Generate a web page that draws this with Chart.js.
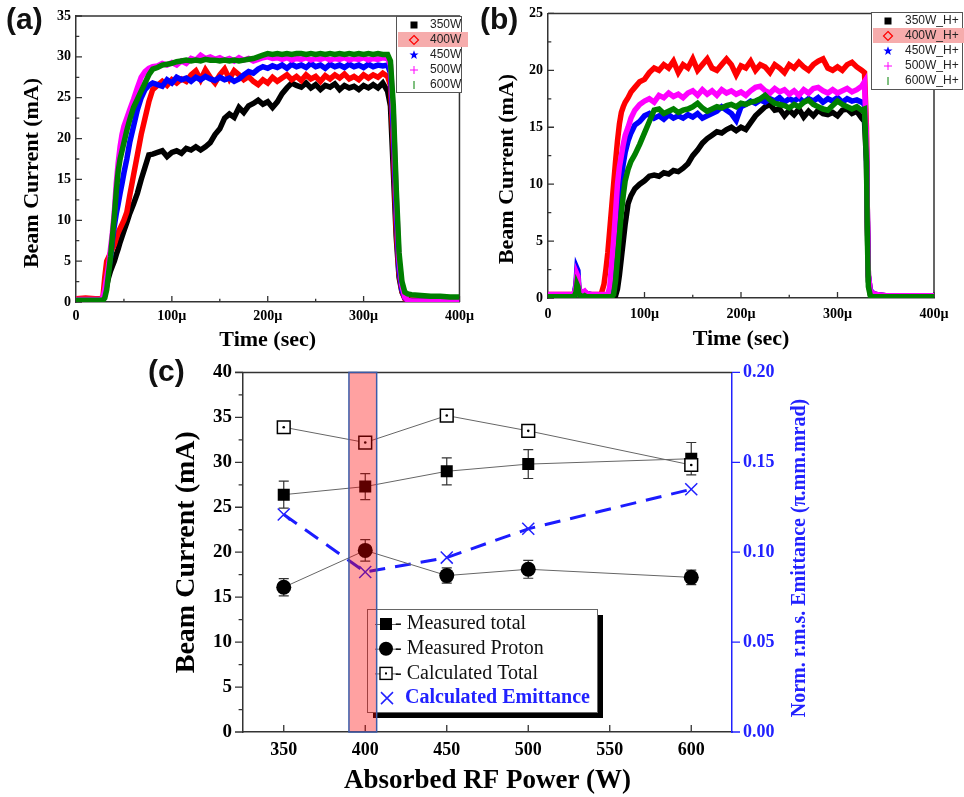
<!DOCTYPE html>
<html>
<head>
<meta charset="utf-8">
<title>Beam current vs absorbed RF power</title>
<script src="https://cdn.jsdelivr.net/npm/chart.js"></script>
<style>
  body { margin: 0; background: #ffffff; }
  #page { position: relative; width: 964px; height: 797px; overflow: hidden; background: #fff; }
  #page canvas { position: absolute; }
  /* panel letters */
  .panel { position: absolute; font: bold 30px "Liberation Sans", Arial, sans-serif; color: #111; line-height: 1; }
</style>
</head>
<body>
<div id="page">
  <canvas id="chartA" width="480" height="360" style="left:0px;top:0px"></canvas>
  <canvas id="chartB" width="484" height="360" style="left:480px;top:0px"></canvas>
  <canvas id="chartC" width="964" height="447" style="left:0px;top:350px"></canvas>
  <div class="panel" style="left:6px;top:4px">(a)</div>
  <div class="panel" style="left:480px;top:4px">(b)</div>
  <div class="panel" style="left:148px;top:356px">(c)</div>
</div>

<script>
// ---------- panel (a): total beam current, time in µs ----------
const timeA = [0, 10, 20, 25, 28, 30, 32, 34, 36, 38, 40, 42, 44, 46, 48, 50, 53, 56, 60, 64,
  68, 72, 76, 80, 85, 90, 95, 100, 105, 110, 115, 120, 125, 130, 135, 140, 145, 150, 155, 160,
  165, 170, 175, 180, 185, 190, 195, 200, 205, 210, 215, 220, 225, 230, 235, 240, 245, 250, 255, 260,
  265, 270, 275, 280, 285, 290, 295, 300, 305, 310, 315, 320, 325, 328, 331, 334, 337, 340, 343, 346,
  350, 360, 370, 380, 390, 400];

const total350 = [0.3, 0.3, 0.3, 0.3, 0.3, 0.8, 2, 3, 3.8, 4.4, 5, 5.8, 6.5, 7.3, 8, 8.7, 9.7, 10.8, 12, 13.3,
  15, 16.5, 18, 18.1, 18.3, 18.5, 17.8, 18.3, 18.5, 18.2, 18.8, 18.6, 19, 18.6, 19, 19.5, 20.5, 21.2, 22.5, 23,
  22.6, 23.8, 23.2, 24, 24.3, 24.7, 24.2, 24.5, 23.8, 24.5, 25.5, 26.2, 26.8, 26.5, 26.3, 26.8, 26.2, 26.6, 26, 26.5,
  26.3, 26.7, 26, 26.5, 26.2, 26.4, 26, 26.5, 26.2, 26.6, 26.2, 26.8, 25.8, 24, 16, 8, 3, 1.2, 0.5, 0.3,
  0.2, 0.2, 0.2, 0.2, 0.2, 0.2];
const total400 = [0.4, 0.5, 0.4, 0.4, 0.5, 3, 5, 5.5, 6, 6.5, 7, 7.8, 8.5, 9, 9.5, 10, 11, 13, 15.5, 18,
  20.5, 22.5, 24.5, 26, 26.5, 27, 26.5, 27.2, 26.8, 27.3, 27, 27.8, 28.3, 27.2, 28.4, 27.5, 26.8, 27.8, 28.5, 27.3,
  28.3, 27.8, 27.2, 27.6, 27, 26.6, 27.2, 26.8, 27.5, 27, 27.4, 27.8, 27.2, 27.6, 27.1, 27.8, 27.3, 27.6, 27, 27.7,
  27.3, 27.8, 27.4, 27.9, 27.3, 27.6, 27.2, 27.8, 27.4, 27.8, 27.5, 28, 27.6, 26.5, 19, 9, 3.5, 1.3, 0.4, 0.2,
  0.2, 0.2, 0.2, 0.2, 0.2, 0.2];
const total450 = [0.2, 0.2, 0.2, 0.2, 0.3, 1, 2.5, 4, 5.5, 7.5, 9.3, 10.8, 12, 13.3, 14.5, 15.8, 17.5, 19.5, 21.5, 23.5,
  25, 26, 26.5, 26.8, 26.6, 26.4, 27.2, 26.8, 27.5, 27.2, 27.4, 27, 27.5, 27.2, 27.6, 27.3, 27.1, 27.5, 27.2, 27.4,
  27, 27.3, 27.8, 28.2, 28, 28.5, 28.8, 28.6, 28.9, 28.7, 29, 28.6, 29.1, 28.8, 29, 28.7, 29.2, 28.8, 29, 28.6,
  29.1, 28.8, 29, 28.7, 29.1, 28.8, 29, 28.7, 29.1, 28.8, 29, 28.9, 29, 28, 21, 11, 4, 1.5, 0.5, 0.2,
  0.1, 0.1, 0.1, 0.1, 0.1, 0.1];
const total500 = [0.3, 0.3, 0.3, 0.3, 0.5, 1.5, 3, 4.5, 6.5, 8.5, 11, 14.5, 17, 19, 20.5, 21.5, 22.5, 23.5, 24.8, 26.2,
  27.5, 28.2, 28.6, 28.8, 28.9, 29.2, 29, 29.3, 29, 29.5, 29.2, 29.8, 29.6, 30.2, 29.8, 30, 29.7, 29.9, 29.6, 29.8,
  29.5, 29.9, 29.6, 29.8, 29.5, 29.7, 29.9, 30, 29.8, 29.9, 29.7, 29.9, 29.6, 29.8, 29.7, 29.9, 29.6, 29.8, 29.7, 29.9,
  29.6, 29.8, 29.7, 29.9, 29.6, 29.8, 29.7, 29.9, 29.6, 29.8, 29.7, 29.9, 29.8, 29, 23, 13, 5, 2, 0.6, 0.2,
  0.1, 0.1, 0.1, 0.1, 0.1, 0.1];
const total600 = [0.2, 0.2, 0.2, 0.2, 0.2, 0.5, 1.5, 3.5, 5.5, 8, 10.5, 13.5, 16, 17.5, 18.5, 19.5, 21, 22.3, 23.8, 24.8,
  25.8, 26.8, 27.8, 28.5, 28.7, 29, 29.1, 29.2, 29.4, 29.5, 29.6, 29.5, 29.6, 29.5, 29.7, 29.6, 29.6, 29.5, 29.6, 29.5,
  29.6, 29.5, 29.6, 29.7, 29.8, 30, 30.2, 30.4, 30.3, 30.4, 30.3, 30.4, 30.3, 30.4, 30.4, 30.3, 30.4, 30.3, 30.4, 30.3,
  30.4, 30.3, 30.4, 30.3, 30.4, 30.3, 30.4, 30.3, 30.4, 30.3, 30.4, 30.3, 30.3, 29.5, 24, 14, 6, 2.5, 1.2, 1,
  0.9, 0.8, 0.7, 0.7, 0.6, 0.6];

// ---------- panel (b): proton (H+) beam current ----------
const timeB = [0, 10, 20, 27, 29, 30, 31, 32, 34, 36, 38, 40, 45, 50, 55, 58, 60, 62, 64, 66,
  68, 70, 72, 74, 76, 78, 80, 83, 86, 90, 95, 100, 105, 110, 115, 120, 125, 130, 135, 140,
  145, 150, 155, 160, 165, 170, 175, 180, 185, 190, 195, 200, 205, 210, 215, 220, 225, 230, 235, 240,
  245, 250, 255, 260, 265, 270, 275, 280, 285, 290, 295, 300, 305, 310, 315, 320, 325, 328, 330, 331,
  332, 334, 337, 340, 350, 360, 380, 400];

const proton350 = [0.2, 0.2, 0.2, 0.2, 0.8, 1.8, 1.5, 0.6, 0.4, 0.3, 0.3, 0.2, 0.1, 0.1, 0.1, 0.1, 0.1, 0.1, 0.1, 0.1,
  0.1, 0.2, 0.8, 2, 3.5, 5, 6.5, 8.3, 9, 9.6, 10, 10.3, 10.7, 10.8, 10.7, 11, 10.9, 11.2, 11.1, 11.4,
  11.8, 12.5, 13, 13.6, 14, 14.3, 14.6, 14.5, 14.8, 15, 14.7, 15, 14.8, 15.4, 16, 16.4, 16.8, 17, 16.5, 16.6,
  16, 16.5, 16.1, 16.6, 15.9, 16.4, 16, 16.5, 16.2, 16.1, 16.3, 16, 16.5, 16.6, 16.2, 16.4, 15.8, 15.5, 12, 6,
  1.5, 0.3, 0.1, 0.1, 0.1, 0.1, 0.1, 0.1];
const proton400 = [0.3, 0.3, 0.3, 0.3, 1, 2, 1.8, 0.7, 0.5, 0.4, 0.5, 0.4, 0.3, 0.3, 0.3, 1.2, 2.5, 4, 6, 8,
  10, 12, 13.8, 15.3, 16.3, 16.8, 17.2, 17.6, 18.1, 18.5, 19, 19.2, 19.8, 20.2, 20, 20.5, 20.2, 20.8, 19.8, 20.5,
  20.2, 21, 20, 20.5, 21, 20.2, 20, 20.5, 21, 20.5, 19.6, 20.4, 20.2, 20.8, 20, 20.5, 20.3, 19.8, 20.5, 20.2,
  19.8, 20.5, 20.2, 20.7, 20.3, 20, 20.5, 20.8, 21, 20.2, 20, 20.3, 20, 20.5, 20.7, 20.3, 20, 19.8, 15, 7,
  2, 0.6, 0.4, 0.3, 0.2, 0.2, 0.2, 0.2];
const proton450 = [0.2, 0.2, 0.2, 0.3, 1.2, 2.6, 2.4, 0.8, 0.5, 0.4, 0.5, 0.4, 0.3, 0.2, 0.2, 0.2, 0.2, 0.2, 0.3, 0.8,
  2, 4, 6.5, 9, 10.5, 11.8, 12.8, 13.8, 14.5, 15.2, 15.5, 16, 16.2, 15.8, 16, 15.7, 16.1, 15.8, 16, 15.8,
  16.1, 15.9, 16.2, 15.8, 16, 16.2, 16.4, 16.8, 16.5, 16.2, 15.6, 16.8, 17, 17.3, 17.1, 17.4, 17.2, 17.5, 17.3, 17.6,
  17.2, 17.5, 17.3, 17.6, 17.2, 17.5, 17.3, 17.6, 17.2, 17.5, 17.3, 17.6, 17.2, 17.5, 17.3, 17.4, 17.2, 17, 13, 7,
  2, 0.7, 0.4, 0.3, 0.2, 0.2, 0.2, 0.2];
const proton500 = [0.3, 0.3, 0.3, 0.3, 1, 2.1, 1.9, 0.7, 0.6, 0.5, 0.6, 0.4, 0.3, 0.3, 0.3, 0.3, 0.3, 0.3, 1, 3,
  5, 7.5, 10, 11.5, 12.5, 13.5, 14.3, 15, 15.8, 16.5, 17, 17.3, 17.5, 17.2, 17.8, 17.6, 18, 17.7, 17.9, 17.6,
  18, 18.2, 17.8, 18.3, 17.9, 18.2, 17.8, 18.3, 18, 18.2, 17.9, 18.1, 17.8, 18.2, 18.5, 18.6, 18.2, 18, 18.4, 18.1,
  18.3, 17.9, 18.2, 17.8, 18.3, 18, 18.4, 18.5, 18.2, 18, 18.3, 18, 18.2, 18.4, 18.1, 18.3, 18.6, 19, 14, 7,
  2, 0.6, 0.4, 0.3, 0.2, 0.2, 0.2, 0.2];
const proton600 = [0.1, 0.1, 0.1, 0.1, 0.5, 1.2, 1, 0.3, 0.2, 0.1, 0.2, 0.1, 0.1, 0.1, 0.1, 0.1, 0.1, 0.1, 0.1, 0.1,
  0.3, 1.5, 3.5, 5.5, 7.5, 9, 10.3, 11.3, 12, 12.6, 13.5, 14.5, 15.5, 16.5, 16.6, 16.2, 16.4, 16.6, 16.3, 16.5,
  16.6, 16.8, 17.1, 16.7, 16.4, 16.6, 16.8, 16.7, 16.9, 17, 16.8, 17.1, 17, 17.2, 17.3, 17.5, 17.8, 17.4, 17.1, 17,
  16.9, 16.7, 17, 16.8, 17.2, 17.4, 17, 16.8, 16.6, 16.5, 16.9, 17.3, 17, 16.8, 16.6, 16.8, 16.5, 16.6, 12, 5,
  1, 0.2, 0.1, 0.1, 0.1, 0.1, 0.1, 0.1];

const labelsA = ['350W', '400W', '450W', '500W', '600W'];
const labelsB = ['350W_H+', '400W_H+', '450W_H+', '500W_H+', '600W_H+'];
const traceColors = ['#000000', '#ff0000', '#0000ff', '#ff00ff', '#008000'];
const markerShapes = ['square', 'diamond', 'star', 'plus', 'bar'];

// ---------- panel (c): summary vs absorbed RF power ----------
const rfPower = [350, 400, 450, 500, 600];
const powerTicks = [350, 400, 450, 500, 550, 600];
const measTotal = [26.4, 27.3, 29.0, 29.8, 30.4];
const measTotalErr = [1.5, 1.45, 1.5, 1.6, 1.8];
const measProton = [16.1, 20.2, 17.4, 18.1, 17.2];
const measProtonErr = [0.95, 1.2, 0.85, 1.0, 0.8];
const calcTotal = [33.9, 32.2, 35.2, 33.5, 29.7];
const emittance = [0.121, 0.089, 0.097, 0.113, 0.135];
const highlightPower = [390, 407];   // shaded 400 W band

const serif = '"Liberation Serif", "Times New Roman", serif';
const sans = '"Liberation Sans", Arial, sans-serif';
const axisColor = '#333333';
const blue = '#2222ff';

// short ticks drawn on the chart-area edge, minor ones at half length
function drawTicks(chart, t) {
  const s = chart.scales[t.id], a = chart.chartArea, ctx = chart.ctx;
  ctx.save();
  ctx.strokeStyle = t.color;
  ctx.lineWidth = 1.3;
  ctx.beginPath();
  const first = Math.ceil(s.min / t.minor - 1e-9);
  for (let k = first; k * t.minor <= s.max + 1e-9; k++) {
    const v = k * t.minor;
    const isMajor = Math.abs(v / t.major - Math.round(v / t.major)) < 1e-6;
    if (!isMajor && !t.showMinor) continue;
    const len = isMajor ? t.len : t.len * 0.55;
    const p = s.getPixelForValue(v);
    if (t.side === 'bottom') {
      ctx.moveTo(p, a.bottom); ctx.lineTo(p, a.bottom + (t.dir === 'in' ? -len : len));
    } else if (t.side === 'left') {
      ctx.moveTo(a.left, p); ctx.lineTo(a.left + (t.dir === 'in' ? len : -len), p);
    } else {
      ctx.moveTo(a.right, p); ctx.lineTo(a.right + (t.dir === 'in' ? -len : len), p);
    }
  }
  ctx.stroke();
  ctx.restore();
}

function drawVerticalTitle(ctx, text, x, y, font, color) {
  ctx.save();
  ctx.translate(x, y);
  ctx.rotate(-Math.PI / 2);
  ctx.fillStyle = color;
  ctx.font = font;
  ctx.textAlign = 'center';
  ctx.textBaseline = 'middle';
  ctx.fillText(text, 0, 0);
  ctx.restore();
}

function drawMarker(ctx, shape, x, y, color) {
  ctx.save();
  ctx.fillStyle = color;
  ctx.strokeStyle = color;
  ctx.lineWidth = 1.2;
  ctx.beginPath();
  if (shape === 'square') {
    ctx.fillRect(x - 3.5, y - 3.5, 7, 7);
  } else if (shape === 'diamond') {
    ctx.moveTo(x, y - 4.5); ctx.lineTo(x + 4.5, y); ctx.lineTo(x, y + 4.5); ctx.lineTo(x - 4.5, y);
    ctx.closePath(); ctx.stroke();
  } else if (shape === 'star') {
    for (let k = 0; k < 10; k++) {
      const r = k % 2 ? 2 : 4.8;
      const ang = -Math.PI / 2 + k * Math.PI / 5;
      ctx.lineTo(x + r * Math.cos(ang), y + r * Math.sin(ang));
    }
    ctx.closePath(); ctx.fill();
  } else if (shape === 'plus') {
    ctx.lineWidth = 1;
    ctx.moveTo(x - 4, y); ctx.lineTo(x + 4, y); ctx.moveTo(x, y - 4); ctx.lineTo(x, y + 4); ctx.stroke();
  } else {
    ctx.lineWidth = 1;
    ctx.moveTo(x, y - 4); ctx.lineTo(x, y + 4); ctx.stroke();
  }
  ctx.restore();
}

function drawTraceLegend(chart, L) {
  const ctx = chart.ctx;
  ctx.save();
  ctx.fillStyle = '#fff';
  ctx.fillRect(L.x, L.y, L.w, L.h);
  ctx.strokeStyle = '#555';
  ctx.lineWidth = 1;
  ctx.strokeRect(L.x + 0.5, L.y + 0.5, L.w, L.h);
  // the 400 W row is highlighted in the original
  ctx.fillStyle = '#f6acac';
  ctx.fillRect(L.x + 2, L.y + L.first + L.gap - 8, L.hlw, 15);
  chart.data.datasets.forEach((ds, i) => {
    const y = L.y + L.first + i * L.gap;
    drawMarker(ctx, markerShapes[i], L.markerX, y, ds.borderColor);
    ctx.fillStyle = '#222';
    ctx.font = '12px ' + sans;
    ctx.textAlign = 'left';
    ctx.textBaseline = 'middle';
    ctx.fillText(ds.label, L.textX, y);
  });
  ctx.restore();
}

function traceChart(canvasId, times, seriesList, labels, cfg) {
  const decor = {
    id: 'traceDecor',
    beforeDatasetsDraw(chart) {
      const a = chart.chartArea, ctx = chart.ctx;
      ctx.save();
      ctx.strokeStyle = axisColor;
      ctx.lineWidth = 1.5;
      ctx.beginPath();
      ctx.moveTo(a.left, a.top); ctx.lineTo(a.right, a.top); ctx.lineTo(a.right, a.bottom);
      ctx.stroke();
      ctx.restore();
      drawTicks(chart, { id: 'x', side: 'bottom', dir: 'in', major: 100, minor: 50, len: 6, color: axisColor, showMinor: true });
      drawTicks(chart, { id: 'y', side: 'left', dir: 'in', major: 5, minor: 2.5, len: 6, color: axisColor, showMinor: true });
      drawVerticalTitle(chart.ctx, 'Beam Current (mA)', cfg.yTitleX, cfg.yTitleY,
        'bold 22px ' + serif, '#000');
    },
    afterDatasetsDraw(chart) {
      drawTraceLegend(chart, cfg.legend);
    }
  };

  const datasets = seriesList.map((values, i) => ({
    label: labels[i],
    data: values.map((v, k) => ({ x: times[k], y: v })),
    borderColor: traceColors[i],
    backgroundColor: traceColors[i],
    borderWidth: 5.5,
    pointRadius: 0,
    tension: 0,
    order: seriesList.length - i
  }));

  return new Chart(document.getElementById(canvasId), {
    type: 'line',
    data: { datasets: datasets },
    options: {
      responsive: false,
      animation: false,
      devicePixelRatio: 1,
      events: [],
      layout: { padding: cfg.padding },
      plugins: { legend: { display: false }, tooltip: { enabled: false } },
      scales: {
        x: {
          type: 'linear', min: 0, max: 400,
          grid: { display: false, drawTicks: false },
          border: { color: axisColor, width: 1.5 },
          ticks: {
            stepSize: 100, maxRotation: 0, padding: cfg.xTickPad, color: '#000',
            font: { family: serif, size: 14, weight: 'bold' },
            callback: v => (v === 0 ? '0' : v + 'µ')
          },
          title: {
            display: true, text: 'Time (sec)', color: '#000',
            font: { family: serif, size: 22, weight: 'bold' },
            padding: { top: 0, bottom: cfg.xTitlePad }
          },
          afterFit: s => { s.height = cfg.xHeight; }
        },
        y: {
          min: 0, max: cfg.yMax,
          grid: { display: false, drawTicks: false },
          border: { color: axisColor, width: 1.5 },
          ticks: {
            stepSize: 5, padding: 5, color: '#000',
            font: { family: serif, size: 14, weight: 'bold' }
          },
          afterFit: s => { s.width = cfg.yWidth; }
        }
      }
    },
    plugins: [decor]
  });
}

traceChart('chartA', timeA, [total350, total400, total450, total500, total600], labelsA, {
  yMax: 35, yWidth: 76, xHeight: 58, xTickPad: 6, xTitlePad: 6, yTitleX: 32, yTitleY: 173,
  padding: { top: 16, right: 20, bottom: 0, left: 0 },
  legend: { x: 396, y: 16, w: 65, h: 76, first: 9, gap: 15, markerX: 414, textX: 430, hlw: 70 }
});

traceChart('chartB', timeB, [proton350, proton400, proton450, proton500, proton600], labelsB, {
  yMax: 25, yWidth: 68, xHeight: 62, xTickPad: 8, xTitlePad: 7, yTitleX: 27, yTitleY: 169,
  padding: { top: 12, right: 30, bottom: 0, left: 0 },
  legend: { x: 391, y: 12, w: 91, h: 77, first: 9, gap: 15, markerX: 408, textX: 425, hlw: 94 }
});

// ---------- panel (c) ----------
function drawErrorBars(chart, values, errs) {
  const xs = chart.scales.x, ys = chart.scales.y, ctx = chart.ctx;
  ctx.save();
  ctx.strokeStyle = '#333';
  ctx.lineWidth = 1.2;
  ctx.beginPath();
  rfPower.forEach((p, i) => {
    const x = xs.getPixelForValue(p);
    const top = ys.getPixelForValue(values[i] + errs[i]);
    const bot = ys.getPixelForValue(values[i] - errs[i]);
    ctx.moveTo(x, top); ctx.lineTo(x, bot);
    ctx.moveTo(x - 5, top); ctx.lineTo(x + 5, top);
    ctx.moveTo(x - 5, bot); ctx.lineTo(x + 5, bot);
  });
  ctx.stroke();
  ctx.restore();
}

function drawRfLegend(chart) {
  const ctx = chart.ctx;
  const L = { x: 367, y: 259, w: 230, h: 103 };
  ctx.save();
  ctx.fillStyle = '#000';
  ctx.fillRect(L.x + 6, L.y + 6, L.w, L.h);   // drop shadow
  ctx.fillStyle = '#fff';
  ctx.fillRect(L.x, L.y, L.w, L.h);
  ctx.strokeStyle = '#666';
  ctx.lineWidth = 1;
  ctx.strokeRect(L.x + 0.5, L.y + 0.5, L.w, L.h);

  const rows = [
    { text: 'Measured total', kind: 'square' },
    { text: 'Measured Proton', kind: 'circle' },
    { text: 'Calculated Total', kind: 'open' },
    { text: 'Calculated Emittance', kind: 'cross' }
  ];
  const mx = 386;
  rows.forEach((r, i) => {
    const y = L.y + 15 + i * 24.7;
    if (r.kind !== 'cross') {
      ctx.strokeStyle = '#666';
      ctx.lineWidth = 1;
      ctx.beginPath(); ctx.moveTo(375, y + 0.5); ctx.lineTo(398, y + 0.5); ctx.stroke();
    }
    ctx.fillStyle = '#000';
    ctx.strokeStyle = '#000';
    if (r.kind === 'square') {
      ctx.fillRect(mx - 6, y - 6, 12, 12);
    } else if (r.kind === 'circle') {
      ctx.beginPath(); ctx.arc(mx, y, 7, 0, Math.PI * 2); ctx.fill();
    } else if (r.kind === 'open') {
      ctx.fillStyle = '#fff';
      ctx.fillRect(mx - 6, y - 6, 12, 12);
      ctx.lineWidth = 1.4;
      ctx.strokeRect(mx - 6, y - 6, 12, 12);
      ctx.fillStyle = '#000';
      ctx.fillRect(mx - 1, y - 1, 2, 2);
    } else {
      ctx.strokeStyle = blue;
      ctx.lineWidth = 1.5;
      ctx.beginPath();
      ctx.moveTo(mx - 5, y - 6); ctx.lineTo(mx + 7, y + 6);
      ctx.moveTo(mx + 7, y - 6); ctx.lineTo(mx - 5, y + 6);
      ctx.stroke();
    }
    const bold = r.kind === 'cross';
    ctx.fillStyle = bold ? blue : '#111';
    ctx.font = (bold ? 'bold ' : '') + '20px ' + serif;
    ctx.textAlign = 'left';
    ctx.textBaseline = 'middle';
    ctx.fillText((bold ? '' : '- ') + r.text, bold ? 405 : 395, y);
  });
  ctx.restore();
}

const rfDecor = {
  id: 'rfDecor',
  beforeDatasetsDraw(chart) {
    const a = chart.chartArea, ctx = chart.ctx;
    ctx.save();
    ctx.strokeStyle = axisColor;
    ctx.lineWidth = 1.5;
    ctx.beginPath(); ctx.moveTo(a.left - 8, a.top); ctx.lineTo(a.right, a.top); ctx.stroke();
    ctx.restore();
    drawTicks(chart, { id: 'y', side: 'left', dir: 'out', major: 5, minor: 2.5, len: 8, color: axisColor, showMinor: true });
    drawTicks(chart, { id: 'x', side: 'bottom', dir: 'in', major: 50, minor: 50, len: 7, color: axisColor });
    drawTicks(chart, { id: 'y2', side: 'right', dir: 'out', major: 0.05, minor: 0.05, len: 8, color: blue });
    drawErrorBars(chart, measTotal, measTotalErr);
    drawErrorBars(chart, measProton, measProtonErr);
  },
  afterDatasetsDraw(chart) {
    const a = chart.chartArea, ctx = chart.ctx, xs = chart.scales.x;
    drawRfLegend(chart);
    // shaded 400 W band drawn over everything, like the original
    const x0 = xs.getPixelForValue(highlightPower[0]);
    const x1 = xs.getPixelForValue(highlightPower[1]);
    ctx.save();
    ctx.fillStyle = 'rgba(255, 0, 0, 0.37)';
    ctx.fillRect(x0, a.top, x1 - x0, a.bottom - a.top);
    ctx.strokeStyle = '#3b5ba8';
    ctx.lineWidth = 1.5;
    ctx.strokeRect(x0, a.top, x1 - x0, a.bottom - a.top);
    ctx.restore();
    // right axis title reads bottom to top
    drawVerticalTitle(ctx, 'Norm. r.m.s. Emittance (\u03c0.mm.mrad)', 800, 208, 'bold 20px ' + serif, blue);
  }
};

const pts = vals => vals.map((v, i) => ({ x: rfPower[i], y: v }));

new Chart(document.getElementById('chartC'), {
  type: 'line',
  data: {
    datasets: [
      { label: 'Calculated Total dot', data: pts(calcTotal), showLine: false, pointRadius: 1.3,
        pointBackgroundColor: '#000', pointBorderWidth: 0, order: 0 },
      { label: 'Calculated Total', data: pts(calcTotal), borderColor: '#666', borderWidth: 1,
        pointStyle: 'rect', pointRadius: 9, pointBackgroundColor: '#fff', pointBorderColor: '#000',
        pointBorderWidth: 1.5, order: 1 },
      { label: 'Measured total', data: pts(measTotal), borderColor: '#666', borderWidth: 1,
        pointStyle: 'rect', pointRadius: 8.5, pointBackgroundColor: '#000', pointBorderColor: '#000',
        pointBorderWidth: 0, order: 2 },
      { label: 'Measured Proton', data: pts(measProton), borderColor: '#666', borderWidth: 1,
        pointStyle: 'circle', pointRadius: 7.5, pointBackgroundColor: '#000', pointBorderColor: '#000',
        pointBorderWidth: 0, order: 3 },
      { label: 'Calculated Emittance', data: pts(emittance), yAxisID: 'y2', borderColor: '#1c1cff',
        borderWidth: 3, borderDash: [16, 10], pointStyle: 'crossRot', pointRadius: 8.5,
        pointBorderColor: blue, pointBorderWidth: 1.5, order: 4 }
    ]
  },
  options: {
    responsive: false,
    animation: false,
    devicePixelRatio: 1,
    events: [],
    layout: { padding: { top: 20, right: 0, bottom: 0, left: 0 } },
    plugins: { legend: { display: false }, tooltip: { enabled: false } },
    scales: {
      x: {
        type: 'linear', min: 325, max: 625,
        grid: { display: false, drawTicks: false },
        border: { color: axisColor, width: 1.5 },
        afterBuildTicks: s => { s.ticks = powerTicks.map(v => ({ value: v })); },
        ticks: { padding: 8, color: '#000', maxRotation: 0, font: { family: serif, size: 18, weight: 'bold' } },
        title: {
          display: true, text: 'Absorbed RF Power (W)', color: '#000',
          font: { family: serif, size: 27, weight: 'bold' },
          padding: { top: 0, bottom: 0 }
        },
        afterFit: s => { s.height = 65; }
      },
      y: {
        position: 'left', min: 0, max: 40,
        grid: { display: false, drawTicks: false },
        border: { color: axisColor, width: 1.5 },
        ticks: { stepSize: 5, padding: 11, color: '#000', font: { family: serif, size: 19, weight: 'bold' } },
        title: {
          display: true, text: 'Beam Current (mA)', color: '#000',
          font: { family: serif, size: 28, weight: 'bold' },
          padding: { top: 170, bottom: 0 }
        },
        afterFit: s => { s.width = 243; }
      },
      y2: {
        position: 'right', min: 0, max: 0.2,
        grid: { display: false, drawTicks: false },
        border: { color: blue, width: 1.5 },
        ticks: {
          stepSize: 0.05, padding: 11, color: blue,
          font: { family: serif, size: 18, weight: 'bold' },
          callback: v => v.toFixed(2)
        },
        afterFit: s => { s.width = 232; }
      }
    }
  },
  plugins: [rfDecor]
});
</script>
</body>
</html>
